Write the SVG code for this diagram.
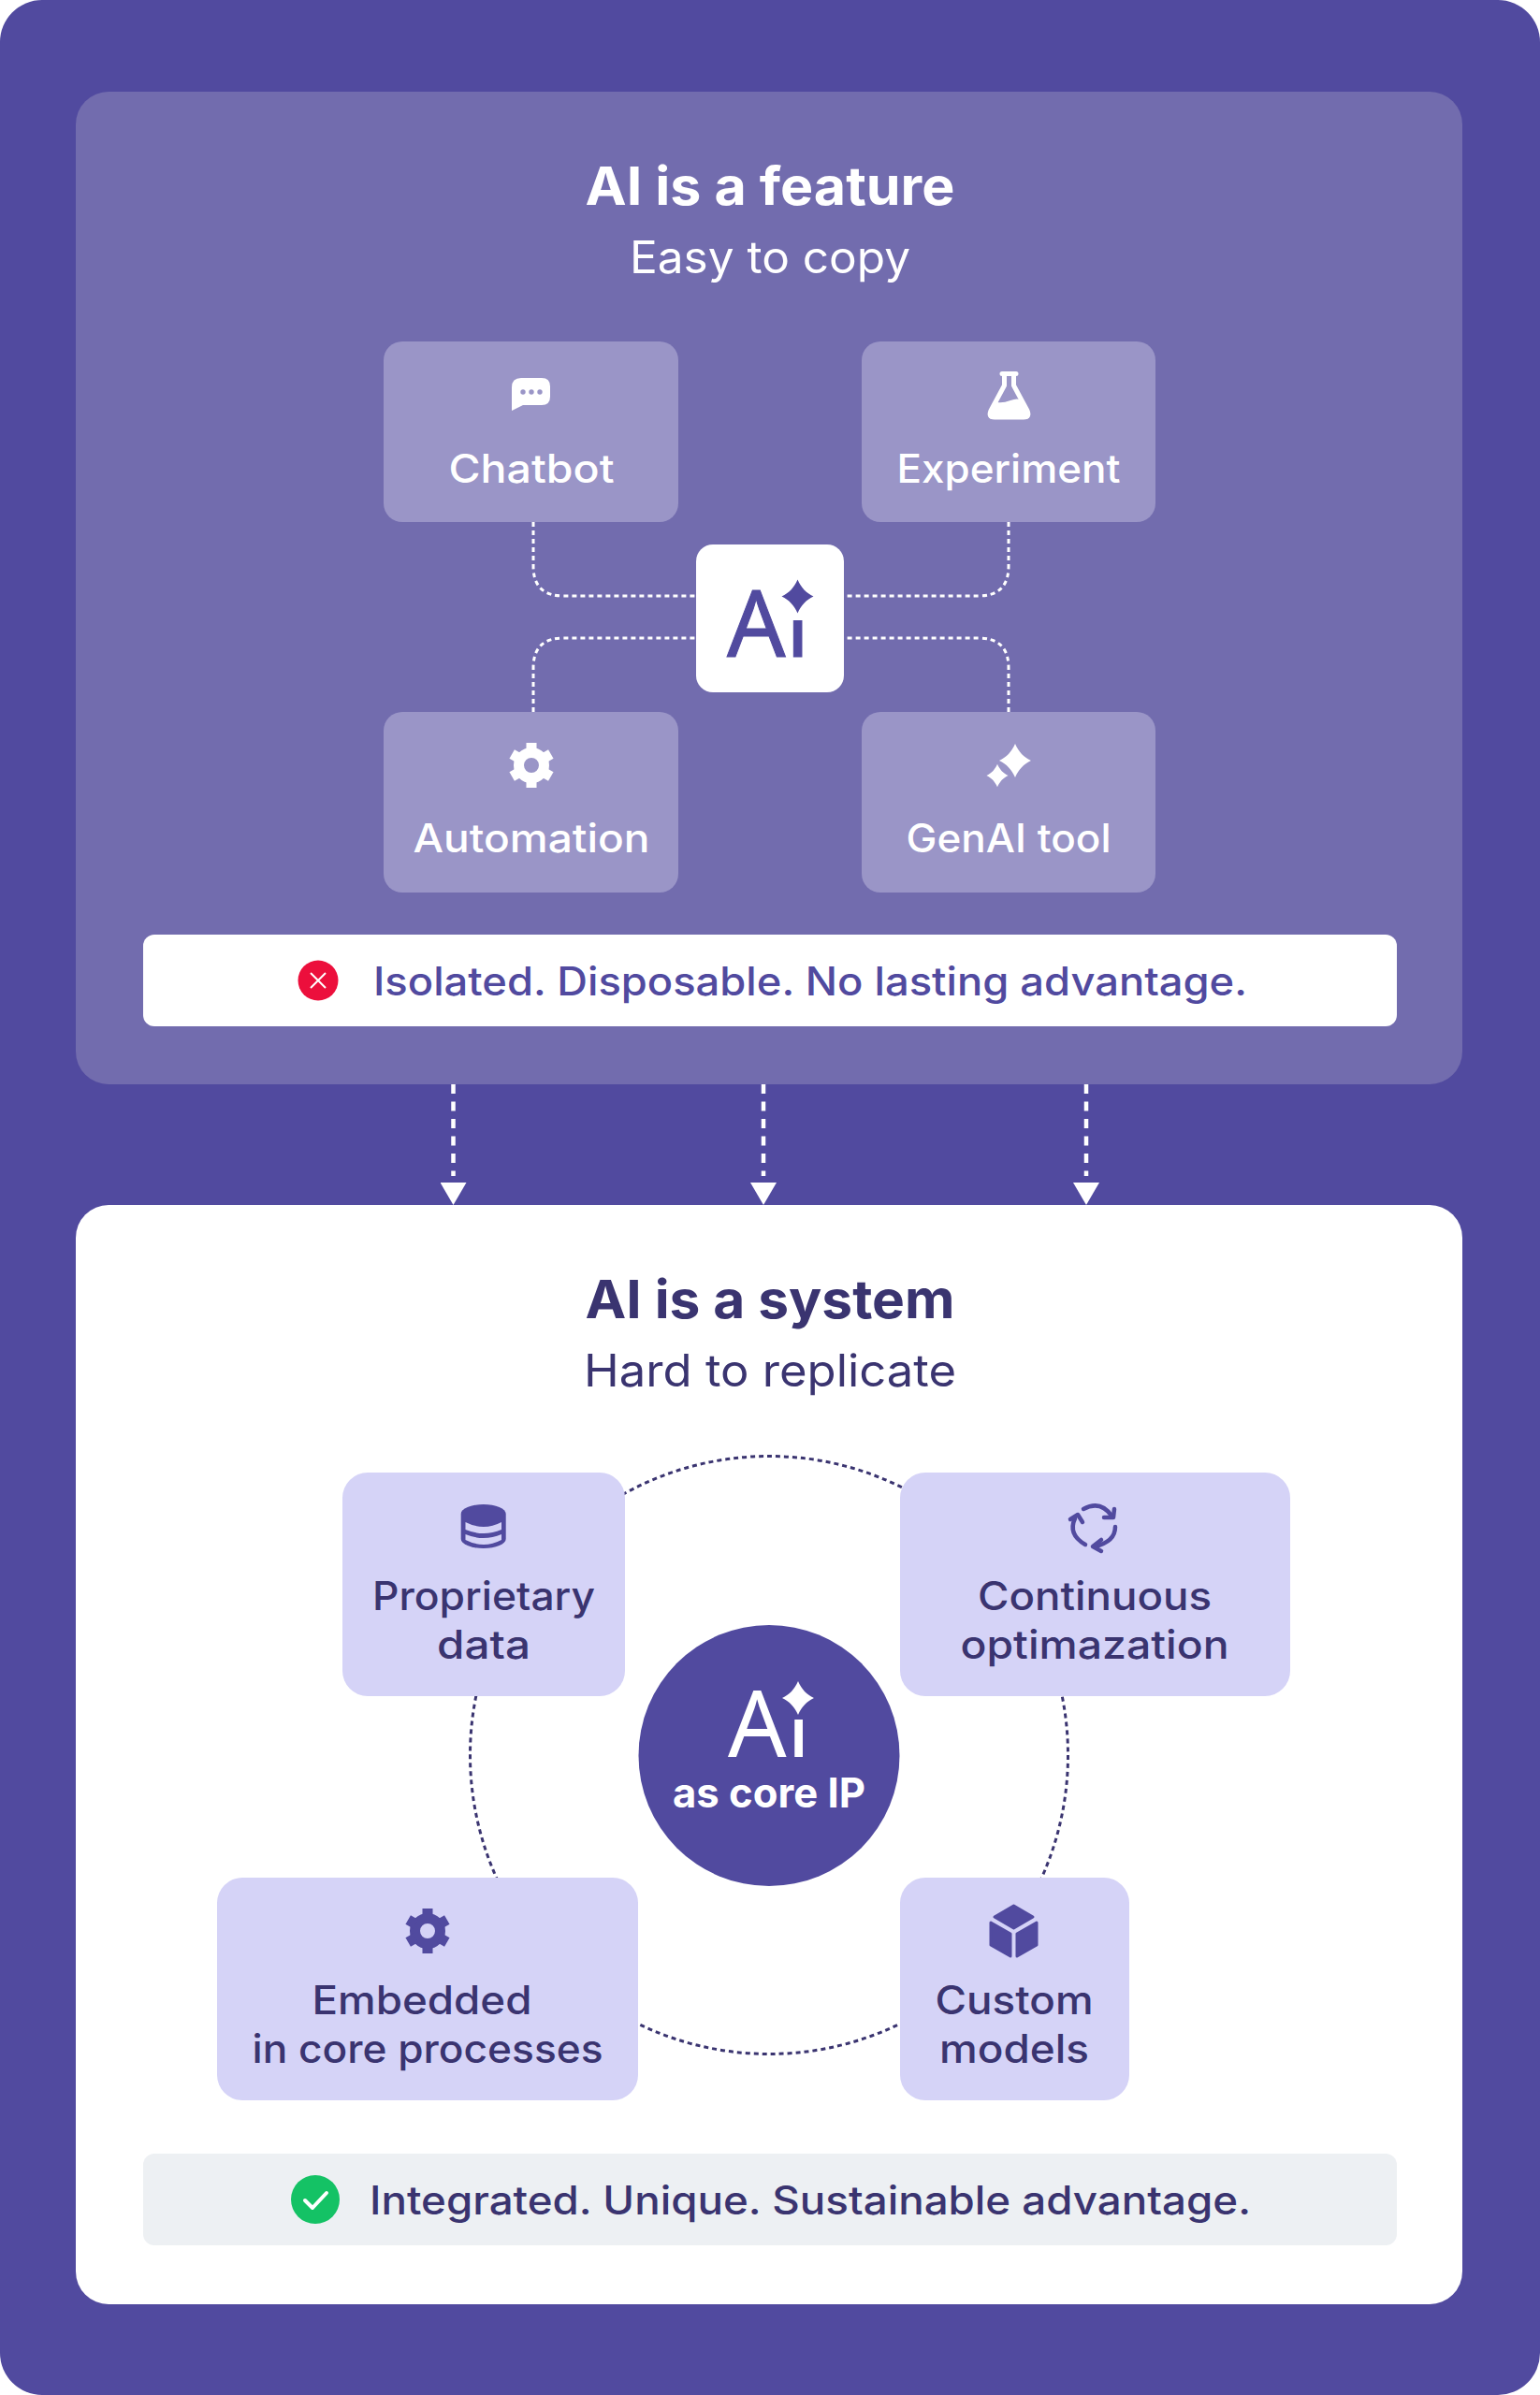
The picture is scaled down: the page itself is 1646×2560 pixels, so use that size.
<svg xmlns="http://www.w3.org/2000/svg" width="1646" height="2560" viewBox="0 0 1646 2560">
<style>
text{font-family:"Inter","Noto Sans","Liberation Sans",sans-serif;text-anchor:middle}
.title{font-size:56px;font-weight:700}
.sub{font-size:48px;font-weight:400}
.lbl{font-size:42px;font-weight:500}
.alert{font-size:42px;font-weight:500;text-anchor:start}
.w{fill:#fff}.d{fill:#3A3470}.p{fill:#514A9F}
.tn{fill:#9A95C7}.ln{fill:#D5D3F7}
.ai{font-family:"Noto Sans","Liberation Sans",sans-serif;font-size:98px;font-weight:400;text-anchor:start}
.conn{fill:none;stroke:#fff;stroke-width:3;stroke-dasharray:5 4}
.drop{stroke:#fff;stroke-width:4.5;stroke-dasharray:10 8.5;fill:none}
</style>
<defs>
<marker id="head" markerUnits="userSpaceOnUse" viewBox="0 0 24 28" markerWidth="24" markerHeight="28" refX="-7" refY="14" orient="auto"><path d="M0 0L24 14L0 28Z" fill="#fff"/></marker>
<path id="star" d="M0 -18C4 -9 9 -4 17 0C9 4 4 9 0 18C-4 9 -9 4 -17 0C-9 -4 -4 -9 0 -18Z" stroke-linejoin="round"/>
<g id="gear"><circle r="13.5" fill="none" stroke="currentColor" stroke-width="11"/><g fill="currentColor"><rect x="-5.5" y="-24" width="11" height="9"/><rect x="-5.5" y="-24" width="11" height="9" transform="rotate(60)"/><rect x="-5.5" y="-24" width="11" height="9" transform="rotate(120)"/><rect x="-5.5" y="-24" width="11" height="9" transform="rotate(180)"/><rect x="-5.5" y="-24" width="11" height="9" transform="rotate(240)"/><rect x="-5.5" y="-24" width="11" height="9" transform="rotate(300)"/></g></g>
</defs>
<rect id="background" width="1646" height="2560" rx="45" fill="#514A9F"/>
<g id="panel-feature">
<rect x="81" y="98" width="1482" height="1061" rx="35" fill="#726CAE"/>
<text class="title w" x="823" y="219" textLength="395" lengthAdjust="spacingAndGlyphs">AI is a feature</text>
<text class="sub w" x="823" y="292" textLength="300" lengthAdjust="spacingAndGlyphs">Easy to copy</text>
</g>
<g id="connectors">
<path class="conn" d="M570 558V605Q570 637 602 637H744"/>
<path class="conn" d="M1078 558V605Q1078 637 1046 637H902"/>
<path class="conn" d="M570 761V714Q570 682 602 682H744"/>
<path class="conn" d="M1078 761V714Q1078 682 1046 682H902"/>
<line class="drop" x1="484.500" y1="1159" x2="484.500" y2="1257" marker-end="url(#head)"/>
<line class="drop" x1="816" y1="1159" x2="816" y2="1257" marker-end="url(#head)"/>
<line class="drop" x1="1161" y1="1159" x2="1161" y2="1257" marker-end="url(#head)"/>
</g>
<g id="node-chatbot">
<rect class="tn" x="410" y="365" width="315" height="193" rx="20"/>
<path class="w" d="M557 404H579Q588 404 588 413V424Q588 433 579 433H559L547 439V414Q547 404 557 404Z"/>
<circle cx="559" cy="419" r="2.700" class="tn"/><circle cx="568" cy="419" r="2.700" class="tn"/><circle cx="577" cy="419" r="2.700" class="tn"/>
<text class="lbl w" x="568" y="516" textLength="177" lengthAdjust="spacingAndGlyphs">Chatbot</text>
</g>
<g id="node-experiment">
<rect class="tn" x="921" y="365" width="314" height="193" rx="20"/>
<path d="M1071 399.500H1086M1073.500 399.500V412L1059 439Q1056 446 1063 446H1094Q1101 446 1098 439L1083.500 412V399.500" fill="none" stroke="#fff" stroke-width="5" stroke-linejoin="round" stroke-linecap="round"/>
<path class="w" d="M1066 430Q1072 431 1080 428T1092 428L1100 443Q1102 448 1095 448H1062Q1055 448 1057 443Z"/>
<text class="lbl w" x="1078" y="516" textLength="239" lengthAdjust="spacingAndGlyphs">Experiment</text>
</g>
<g id="node-automation">
<rect class="tn" x="410" y="761" width="315" height="193" rx="20"/>
<use href="#gear" x="568" y="818" style="color:#fff"/>
<text class="lbl w" x="568" y="911" textLength="253" lengthAdjust="spacingAndGlyphs">Automation</text>
</g>
<g id="node-genai">
<rect class="tn" x="921" y="761" width="314" height="193" rx="20"/>
<use href="#star" x="1085" y="813" class="w"/>
<use href="#star" transform="translate(1066 829) scale(.68)" class="w"/>
<text class="lbl w" x="1078" y="911" textLength="219" lengthAdjust="spacingAndGlyphs">GenAI tool</text>
</g>
<g id="node-ai-hub">
<rect class="w" x="744" y="582" width="158" height="158" rx="18"/>
<text class="ai p" x="777 840" y="702" stroke="#514A9F" stroke-width="1">Ai</text>
<rect class="w" x="842" y="622" width="22" height="41"/>
<use href="#star" x="852.500" y="637.500" class="p"/>
</g>
<g id="alert-feature">
<rect class="w" x="153" y="999" width="1340" height="98" rx="12"/>
<circle cx="340" cy="1048" r="21.500" fill="#EC0F3C"/>
<path d="M332 1040L348 1056M348 1040L332 1056" stroke="#fff" stroke-width="2" fill="none"/>
<text class="alert p" x="399" y="1064" textLength="934" lengthAdjust="spacingAndGlyphs">Isolated. Disposable. No lasting advantage.</text>
</g>
<g id="panel-system">
<rect class="w" x="81" y="1288" width="1482" height="1175" rx="35"/>
<text class="title d" x="823" y="1409" textLength="395" lengthAdjust="spacingAndGlyphs">AI is a system</text>
<text class="sub d" x="823" y="1482" textLength="398" lengthAdjust="spacingAndGlyphs">Hard to replicate</text>
</g>
<g id="ring-connector">
<circle cx="822" cy="1876" r="319.500" fill="none" stroke="#3A3470" stroke-width="3" stroke-dasharray="5 4"/>
</g>
<g id="node-core">
<circle class="p" cx="822" cy="1876.500" r="139.500"/>
<text class="ai w" x="778 841" y="1878">Ai</text>
<rect class="p" x="843" y="1798" width="22" height="40"/>
<use href="#star" x="853" y="1815" class="w"/>
<text class="w" x="822" y="1932" font-size="44" font-weight="700" textLength="206" lengthAdjust="spacingAndGlyphs">as core IP</text>
</g>
<g id="node-data">
<rect class="ln" x="366" y="1574" width="302" height="239" rx="27"/>
<path class="p" d="M492.700 1618a24 10 0 0 1 48 0V1645a24 10 0 0 1 -48 0Z"/>
<path class="ln" d="M497.500 1627Q517 1637 536 1627V1635Q517 1643 497.500 1635ZM497.500 1640Q517 1648 536 1640V1646Q517 1656 497.500 1646Z"/>
<text class="lbl d" x="517" y="1721" textLength="238" lengthAdjust="spacingAndGlyphs">Proprietary</text>
<text class="lbl d" x="517" y="1773" textLength="100" lengthAdjust="spacingAndGlyphs">data</text>
</g>
<g id="node-optimization">
<rect class="ln" x="962" y="1574" width="417" height="239" rx="27"/>
<g fill="none" stroke="#514A9F" stroke-width="4.500" stroke-linecap="round" stroke-linejoin="round">
<path d="M1158 1613Q1176 1603 1188 1620M1192 1632Q1192 1648 1170 1653M1160 1651Q1141 1640 1149 1623"/>
<path d="M1191 1613L1190 1622L1180 1622M1177 1646L1168 1653L1177 1658M1144 1624L1152 1619L1157 1627"/>
</g>
<text class="lbl d" x="1170" y="1721" textLength="250" lengthAdjust="spacingAndGlyphs">Continuous</text>
<text class="lbl d" x="1170" y="1773" textLength="287" lengthAdjust="spacingAndGlyphs">optimazation</text>
</g>
<g id="node-embedded">
<rect class="ln" x="232" y="2007" width="450" height="238" rx="27"/>
<use href="#gear" x="457" y="2064" style="color:#514A9F"/>
<text class="lbl d" x="451" y="2153" textLength="235" lengthAdjust="spacingAndGlyphs">Embedded</text>
<text class="lbl d" x="457" y="2205" textLength="375" lengthAdjust="spacingAndGlyphs">in core processes</text>
</g>
<g id="node-models">
<rect class="ln" x="962" y="2007" width="245" height="238" rx="27"/>
<g class="p" stroke="#514A9F" stroke-width="3" stroke-linejoin="round">
<path d="M1083.500 2037L1104 2049L1083.500 2061L1063 2049Z"/>
<path d="M1059 2055L1080 2067V2091L1059 2079Z"/>
<path d="M1108 2055L1087 2067V2091L1108 2079Z"/>
</g>
<text class="lbl d" x="1084" y="2153" textLength="169" lengthAdjust="spacingAndGlyphs">Custom</text>
<text class="lbl d" x="1084" y="2205" textLength="160" lengthAdjust="spacingAndGlyphs">models</text>
</g>
<g id="alert-system">
<rect x="153" y="2302" width="1340" height="98" rx="12" fill="#EDF0F3"/>
<circle cx="337" cy="2351" r="26" fill="#14C265"/>
<path d="M326 2352L334 2360L349 2344" fill="none" stroke="#fff" stroke-width="4" stroke-linecap="round" stroke-linejoin="round"/>
<text class="alert d" x="395" y="2367" textLength="942" lengthAdjust="spacingAndGlyphs">Integrated. Unique. Sustainable advantage.</text>
</g>
</svg>
